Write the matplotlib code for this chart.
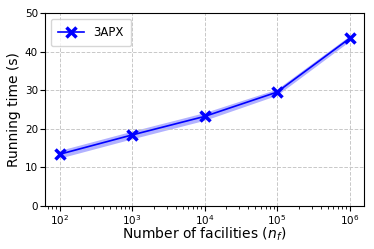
import matplotlib
matplotlib.use("Agg")
import matplotlib.pyplot as plt
import numpy as np

n_facilities = [1e2, 1e3, 1e4, 1e5, 1e6]
running_time = [13.4, 18.4, 23.2, 29.5, 43.4]
band = [1.0, 1.0, 1.0, 0.8, 0.7]

fig = plt.figure(figsize=(3.74, 2.49), dpi=100)
ax = fig.add_axes([45/374, 1-206/249, (364-45)/374, (206-13)/249])
x = np.array(n_facilities)
y = np.array(running_time)
b = np.array(band)
ax.fill_between(x, y-b, y+b, color='blue', alpha=0.3, linewidth=0)
ax.plot(x, y, color='blue', marker='x', markersize=7, markeredgewidth=2.5, linewidth=1.2, label='3APX')
ax.set_xscale('log')
ax.set_ylim(0, 50)
ax.set_xlim(10**1.8, 10**6.2)
ax.set_yticks([0, 10, 20, 30, 40, 50])
ax.grid(True, linestyle='--', color='#c8c8c8', linewidth=0.7)
ax.tick_params(labelsize=7.5, pad=1.5)
ax.set_xlabel('Number of facilities ($n_f$)', fontsize=10)
ax.xaxis.set_label_coords(0.5, -0.1)
ax.set_ylabel('Running time (s)', fontsize=10, labelpad=3)
ax.legend(loc='upper left', fontsize=8.5, borderpad=0.6, handlelength=2.2, markerscale=1.0)
fig.savefig('out.png', dpi=100)
